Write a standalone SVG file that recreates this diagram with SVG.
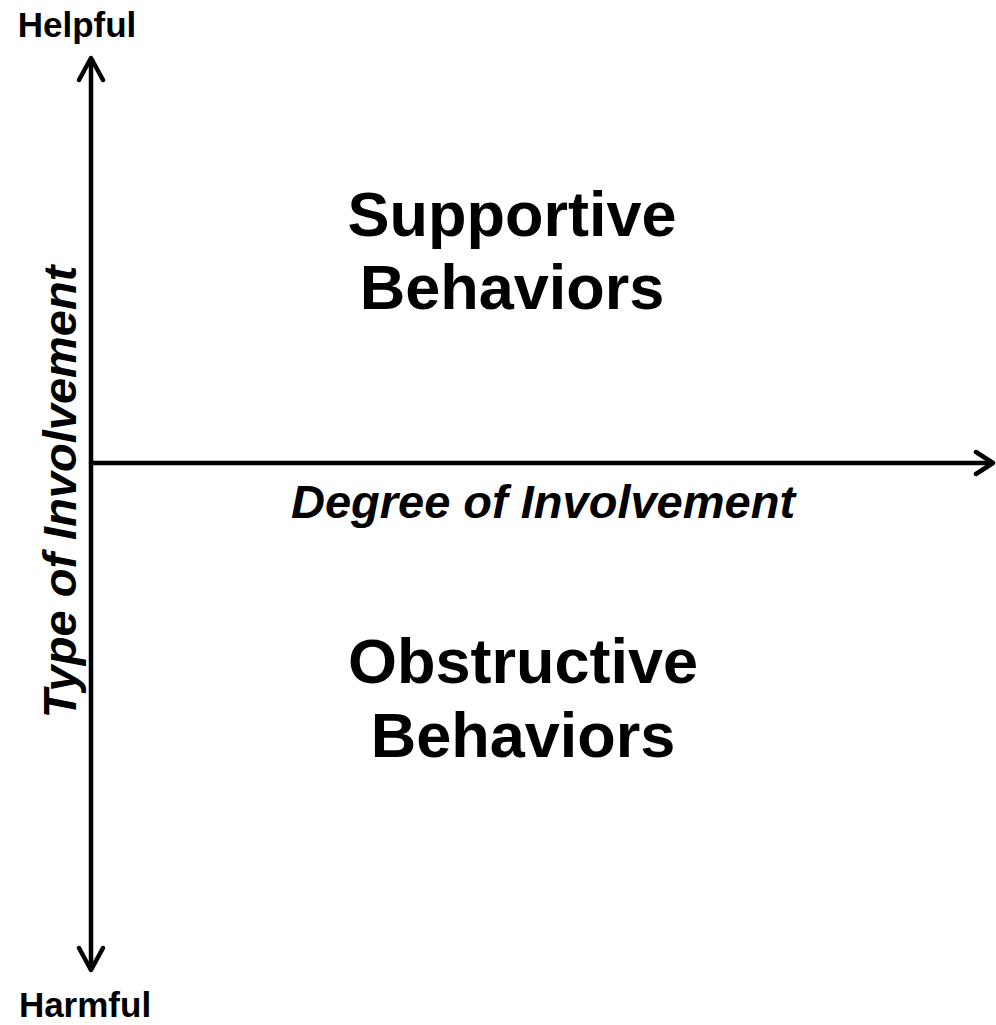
<svg xmlns="http://www.w3.org/2000/svg" width="996" height="1025" viewBox="0 0 996 1025">
<style>
.t{font-family:"Liberation Sans",Arial,sans-serif;font-weight:bold;fill:#000}
.ax{stroke:#000;stroke-width:4.5;fill:none;stroke-linecap:round;stroke-linejoin:round}
</style>
<rect width="996" height="1025" fill="#fff"/>
<g id="connectors">
<line class="ax" x1="91" y1="59" x2="91" y2="969"/>
<line class="ax" x1="91" y1="463" x2="991" y2="463"/>
<polyline class="ax" points="79,80 91,58 103,80"/>
<polyline class="ax" points="79,948 91,970 103,948"/>
<polyline class="ax" points="976,452 993,463 976,474"/>
</g>
<g id="helpful"><text class="t" x="77" y="37" font-size="35" text-anchor="middle">Helpful</text></g>
<g id="harmful"><text class="t" x="85" y="1017" font-size="35" text-anchor="middle">Harmful</text></g>
<g id="supportive"><text class="t" x="512" y="236" font-size="63" text-anchor="middle">Supportive</text><text class="t" x="512" y="309" font-size="63" text-anchor="middle">Behaviors</text></g>
<g id="obstructive"><text class="t" x="523" y="683" font-size="63" text-anchor="middle">Obstructive</text><text class="t" x="523" y="757" font-size="63" text-anchor="middle">Behaviors</text></g>
<g id="degree"><text class="t" x="543" y="518" font-size="47" font-style="italic" text-anchor="middle">Degree of Involvement</text></g>
<g id="type"><text class="t" transform="translate(76,492) rotate(-90)" font-size="47" font-style="italic" text-anchor="middle">Type of Involvement</text></g>
</svg>
